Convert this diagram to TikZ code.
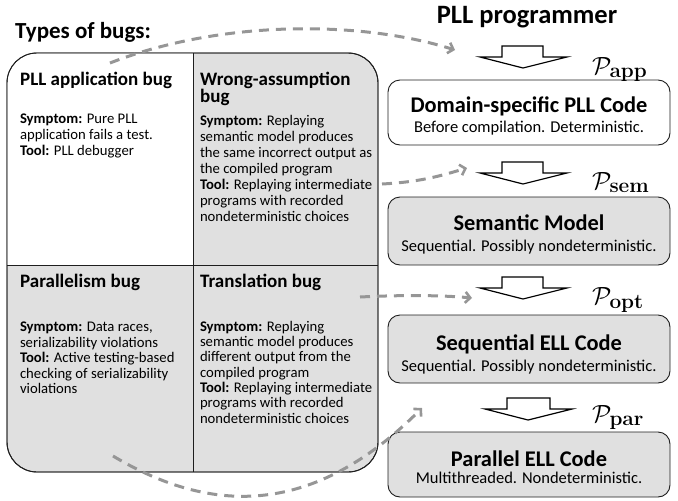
\documentclass[tikz,border=0pt]{standalone}
\usepackage[no-math]{fontspec}
\setmainfont{Carlito}
\usetikzlibrary{arrows.meta}
\definecolor{boxgray}{RGB}{224,224,224}
\definecolor{dashgray}{RGB}{150,150,150}
\definecolor{edge}{RGB}{30,30,30}
\begin{document}
\begin{tikzpicture}[x=1pt,y=-1pt,
  txt/.style={inner sep=0pt, outer sep=0pt, align=left, anchor=north west},
  body/.style={txt, font=\fontsize{14.7}{16}\selectfont},
  head/.style={inner sep=0pt, anchor=base west, font=\bfseries\fontsize{19}{17.5}\selectfont, align=left},
  ttl/.style={inner sep=0pt, anchor=base, font=\bfseries\fontsize{22.4}{22}\selectfont},
  sub/.style={inner sep=0pt, anchor=base, font=\fontsize{16.5}{16.5}\selectfont},
  codebox/.style={draw=edge, line width=0.9pt, rounded corners=12pt},
  blockarrow/.style={draw=black, line width=1.2pt, fill=white, line join=miter},
  plab/.style={inner sep=0pt, anchor=base west, font=\fontsize{30}{30}\selectfont},
  dashcurve/.style={draw=dashgray, line width=3pt, dash pattern=on 10pt off 7pt,
     -{Straight Barb[length=5pt,width=11pt,line width=2.6pt]}},
]
\useasboundingbox (0,0) rectangle (678,501);

% titles
\node[inner sep=0pt, anchor=base west, font=\bfseries\fontsize{23}{23}\selectfont] (types) at (15,38) {Types of bugs:};
\node[inner sep=0pt, anchor=base, font=\bfseries\fontsize{26.5}{26.5}\selectfont] (prog) at (527,23) {PLL programmer};

% left table
\draw[fill=boxgray, draw=edge, line width=0.9pt, rounded corners=30pt] (7,53) rectangle (378,472);
\begin{scope}
  \clip (7,53) rectangle (193,265);
  \fill[white, rounded corners=30pt] (7.45,53.45) rectangle (260,330);
\end{scope}
\draw[edge, line width=0.9pt, rounded corners=30pt] (7,53) rectangle (378,472);
\draw[edge, line width=0.9pt] (193,53) -- (193,472);
\draw[edge, line width=0.9pt] (7,265) -- (378,265);

% quadrant texts
\node[head] (h1) at (20,85) {PLL application bug};
\node[body] (b1) at (20,112.5) {\strut\textbf{Symptom:} Pure PLL\\application fails a test.\\\textbf{Tool:} PLL debugger};

\node[head] (h2) at (200,102.5) {Wrong-assumption\\bug};
\node[body] (b2) at (200,114.5) {\strut\textbf{Symptom:} Replaying\\semantic model produces\\the same incorrect output as\\the compiled program\\\textbf{Tool:} Replaying intermediate\\programs with recorded\\nondeterministic choices};

\node[head] (h3) at (20,287) {Parallelism bug};
\node[body, font=\fontsize{14.7}{15.6}\selectfont] (b3) at (20,320.5) {\strut\textbf{Symptom:} Data races,\\serializability violations\\\textbf{Tool:} Active testing-based\\checking of serializability\\violations};

\node[head] (h4) at (200,287) {Translation bug};
\node[body, font=\fontsize{14.7}{15.3}\selectfont] (b4) at (200,320.5) {\strut\textbf{Symptom:} Replaying\\semantic model produces\\different output from the\\compiled program\\\textbf{Tool:} Replaying intermediate\\programs with recorded\\nondeterministic choices};

% right boxes
\draw[codebox, fill=white] (388,80) rectangle (670,145);
\draw[codebox, fill=boxgray] (388,197) rectangle (670,265);
\draw[codebox, fill=boxgray] (388,315) rectangle (670,383);
\draw[codebox, fill=boxgray] (388,432) rectangle (670,497);

\node[ttl] (t1) at (529,112) {Domain-specific PLL Code};
\node[sub] (s1) at (529,132) {Before compilation. Deterministic.};
\node[ttl] (t2) at (529,230) {Semantic Model};
\node[sub] (s2) at (529,251) {Sequential. Possibly nondeterministic.};
\node[ttl] (t3) at (529,350) {Sequential ELL Code};
\node[sub] (s3) at (529,371) {Sequential. Possibly nondeterministic.};
\node[ttl] (t4) at (529,466) {Parallel ELL Code};
\node[sub] (s4) at (529,483) {Multithreaded. Nondeterministic.};

% block arrows
\draw[blockarrow] (502,46) -- (543,46) -- (543,57) -- (567,57) -- (523,68) -- (480,57) -- (502,57) -- cycle;
\draw[blockarrow] (502,162) -- (543,162) -- (543,173) -- (567,173) -- (523,184) -- (480,173) -- (502,173) -- cycle;
\draw[blockarrow] (502,277) -- (543,277) -- (543,288) -- (567,288) -- (523,299) -- (480,288) -- (502,288) -- cycle;
\draw[blockarrow] (507,398) -- (550,398) -- (550,409) -- (572,409) -- (528,420) -- (485,409) -- (507,409) -- cycle;

% P labels
\node[plab] (p1) at (592,74) {$\mathcal{P}_{\mathbf{app}}$};
\node[plab] (p2) at (592,189) {$\mathcal{P}_{\mathbf{sem}}$};
\node[plab] (p3) at (592,304) {$\mathcal{P}_{\mathbf{opt}}$};
\node[plab] (p4) at (592,422) {$\mathcal{P}_{\mathbf{par}}$};

% dashed connectors
\coordinate (d1s) at (110,63);
\coordinate (d1e) at (455,50);
\coordinate (d2s) at (382,184);
\coordinate (d2e) at (467,168);
\coordinate (d3s) at (360,297);
\coordinate (d3e) at (472,298);
\coordinate (d4s) at (113,456);
\coordinate (d4e) at (422,408);
\draw[dashcurve] (d1s) .. controls (220,20) and (360,20) .. (d1e);
\draw[dashcurve] (d2s) .. controls (420,182) and (440,176) .. (d2e);
\draw[dashcurve] (d3s) .. controls (400,295) and (440,295) .. (d3e);
\draw[dashcurve] (d4s) .. controls (220,520) and (320,510) .. (d4e);
\end{tikzpicture}
\end{document}
